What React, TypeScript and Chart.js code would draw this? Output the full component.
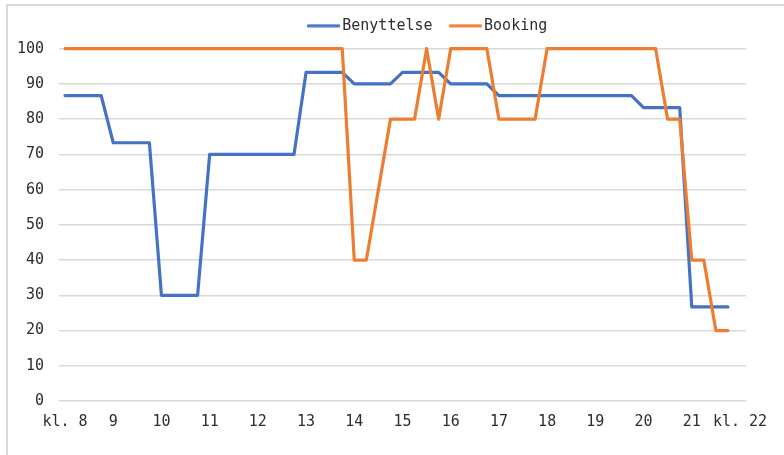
import React, { useEffect, useRef } from 'react';
import { Chart, registerables } from 'chart.js';

Chart.register(...registerables);

// 15-minute categories from kl. 8 to kl. 22
const categories = [
  '8:00', '8:15', '8:30', '8:45',
  '9:00', '9:15', '9:30', '9:45',
  '10:00', '10:15', '10:30', '10:45',
  '11:00', '11:15', '11:30', '11:45',
  '12:00', '12:15', '12:30', '12:45',
  '13:00', '13:15', '13:30', '13:45',
  '14:00', '14:15', '14:30', '14:45',
  '15:00', '15:15', '15:30', '15:45',
  '16:00', '16:15', '16:30', '16:45',
  '17:00', '17:15', '17:30', '17:45',
  '18:00', '18:15', '18:30', '18:45',
  '19:00', '19:15', '19:30', '19:45',
  '20:00', '20:15', '20:30', '20:45',
  '21:00', '21:15', '21:30', '21:45',
  '22:00',
];

const hourTickLabels = [
  'kl. 8', '9', '10', '11', '12', '13', '14', '15', '16', '17', '18', '19', '20', '21', 'kl. 22',
];

const benyttelse = [
  86.7, 86.7, 86.7, 86.7,
  73.3, 73.3, 73.3, 73.3,
  30, 30, 30, 30,
  70, 70, 70, 70,
  70, 70, 70, 70,
  93.3, 93.3, 93.3, 93.3,
  90, 90, 90, 90,
  93.3, 93.3, 93.3, 93.3,
  90, 90, 90, 90,
  86.7, 86.7, 86.7, 86.7,
  86.7, 86.7, 86.7, 86.7,
  86.7, 86.7, 86.7, 86.7,
  83.3, 83.3, 83.3, 83.3,
  26.7, 26.7, 26.7, 26.7,
  null,
];

const booking = [
  100, 100, 100, 100,
  100, 100, 100, 100,
  100, 100, 100, 100,
  100, 100, 100, 100,
  100, 100, 100, 100,
  100, 100, 100, 100,
  40, 40, 60, 80,
  80, 80, 100, 80,
  100, 100, 100, 100,
  80, 80, 80, 80,
  100, 100, 100, 100,
  100, 100, 100, 100,
  100, 100, 80, 80,
  40, 40, 20, 20,
  null,
];

const FONT = '"DejaVu Sans Mono", monospace';
const TEXT = '#2e2e2e';
const BLUE = '#4472C4';
const ORANGE = '#ED7D31';
const LINE_W = 3.2;

function lineSwatch(color: string) {
  const c = document.createElement('canvas');
  c.width = 33;
  c.height = 4;
  const ctx = c.getContext('2d');
  if (ctx) {
    ctx.strokeStyle = color;
    ctx.lineWidth = 3.2;
    ctx.lineCap = 'round';
    ctx.beginPath();
    ctx.moveTo(1.5, 2);
    ctx.lineTo(31.5, 2);
    ctx.stroke();
  }
  return c;
}

const shiftLegend = {
  id: 'shiftLegend',
  afterLayout(chart: any) {
    const l = chart.legend;
    if (!l) return;
    l.left += 57;
    l.right += 57;
    l.top -= 5.5;
    l.bottom -= 5.5;
  },
};

export default function App() {
  const ref = useRef<HTMLCanvasElement>(null);

  useEffect(() => {
    if (!ref.current) return;
    const chart = new Chart(ref.current, {
      type: 'line',
      data: {
        labels: categories,
        datasets: [
          {
            label: 'Benyttelse',
            data: benyttelse,
            borderColor: BLUE,
            backgroundColor: BLUE,
            borderWidth: LINE_W,
            pointRadius: 0,
            pointHoverRadius: 0,
            pointStyle: lineSwatch(BLUE) as any,
            tension: 0,
            borderJoinStyle: 'round',
            borderCapStyle: 'round',
            clip: 6,
            order: 1,
          },
          {
            label: 'Booking',
            data: booking,
            borderColor: ORANGE,
            backgroundColor: ORANGE,
            borderWidth: LINE_W,
            pointRadius: 0,
            pointHoverRadius: 0,
            pointStyle: lineSwatch(ORANGE) as any,
            tension: 0,
            borderJoinStyle: 'round',
            borderCapStyle: 'round',
            clip: 6,
            order: 0,
          },
        ],
      },
      options: {
        responsive: false,
        animation: false,
        devicePixelRatio: 1,
        layout: { padding: { top: 1.7, right: 38, bottom: 0, left: 0 } },
        plugins: {
          tooltip: { enabled: false },
          legend: {
            position: 'top',
            labels: {
              usePointStyle: true,
              pointStyleWidth: 22,
              padding: 22,
              color: TEXT,
              font: { family: FONT, size: 15 },
              sort: (a: any, b: any) => a.datasetIndex - b.datasetIndex,
            },
          },
        },
        scales: {
          x: {
            type: 'category',
            offset: true,
            grid: { display: false, drawTicks: false },
            border: { display: false },
            ticks: {
              autoSkip: false,
              maxRotation: 0,
              minRotation: 0,
              padding: 12,
              color: TEXT,
              font: { family: FONT, size: 15 },
              callback: (_v: any, i: number) => (i % 4 === 0 ? hourTickLabels[i / 4] : ''),
            },
            afterFit: (s: any) => {
              s.height = 54;
            },
          },
          y: {
            min: 0,
            max: 100,
            ticks: {
              stepSize: 10,
              padding: 15,
              color: TEXT,
              font: { family: FONT, size: 15 },
            },
            grid: { color: '#d9d9d9', lineWidth: 1.5, drawTicks: false },
            border: { display: false },
            afterFit: (s: any) => {
              s.width = 59;
            },
          },
        },
      },
      plugins: [shiftLegend],
    });
    return () => chart.destroy();
  }, []);

  return (
    <div
      style={{
        position: 'fixed',
        left: 0,
        top: 0,
        width: 784,
        height: 455,
        overflow: 'hidden',
        background: '#ffffff',
      }}
    >
      <div
        style={{
          position: 'absolute',
          left: 6,
          top: 4,
          width: 800,
          height: 500,
          border: '2px solid #d9d9d9',
          boxSizing: 'border-box',
        }}
      />
      <canvas
        ref={ref}
        width={784}
        height={455}
        style={{ position: 'absolute', left: 0, top: 0, width: 784, height: 455 }}
      />
    </div>
  );
}
